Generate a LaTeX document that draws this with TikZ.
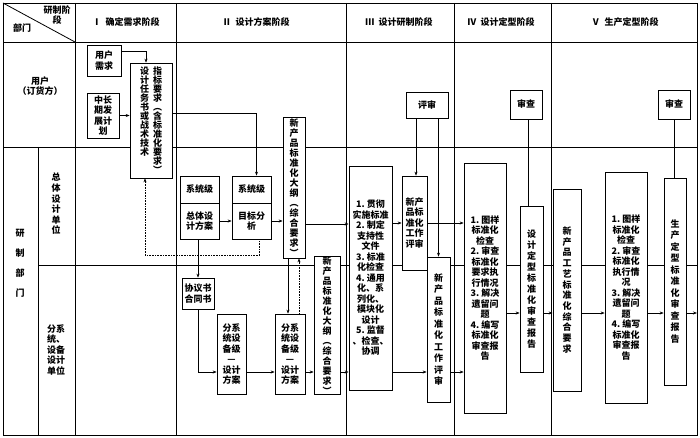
\documentclass[tikz,border=0pt]{standalone}
\usepackage{fontspec}
\newfontfamily\cjk{Noto Sans CJK SC}
\usetikzlibrary{arrows.meta}

% vertical column of characters, one per line
\ExplSyntaxOn
\NewDocumentCommand \shu { O{11pt} m }
  {
    \vtop
      {
        \baselineskip = #1 \lineskiplimit = -\maxdimen
        \tl_map_inline:nn {#2} { \hbox_to_wd:nn {1em} { \hss ##1 \hss } }
      }
  }
\ExplSyntaxOff

\begin{document}
\begin{tikzpicture}[x=1pt,y=-1pt,
    every node/.style={font=\cjk\bfseries\fontsize{9}{10.5}\selectfont,align=center},
    box/.style={draw,fill=white,line width=0.7pt,inner sep=0pt},
    wh/.style 2 args={minimum width=#1pt,minimum height=#2pt},
    arr/.style={line width=0.6pt,-{Stealth[length=4pt,width=3pt]}},
    fb/.style={arr,densely dotted},
    ln/.style={line width=0.6pt},
    rule/.style={line width=0.8pt}]
\useasboundingbox (0,0) rectangle (700,438);
% table
\draw[rule] (3,3) rectangle (697,435);
\draw[rule] (3,42) -- (697,42) (3,147) -- (697,147) (38,265) -- (697,265);
\draw[rule] (3,3) -- (75,42);
\foreach \x in {75,176,346,454,551}
  \draw[rule] (\x,3) -- (\x,435);
\draw[rule] (38,147) -- (38,435);
% heads
\node (hjd) at (57,15) {研制阶\\段};
\node (hbm) at (22,28) {部门};
\node (p1) at (126,22) {Ⅰ\ \ 确定需求阶段};
\node (p2) at (256,22) {Ⅱ\ \ 设计方案阶段};
\node (p3) at (399,22) {Ⅲ\ \ 设计研制阶段};
\node (p4) at (501,22) {Ⅳ\ \ 设计定型阶段};
\node (p5) at (625,22) {Ⅴ\ \ 生产定型阶段};
\node (yh) at (40,86) {用户\\（订货方）};
\node (ztdw) at (56,204) {\shu[10.6pt]{总体设计单位}};
\node (yzbm) at (20,263) {\shu[20pt]{研制部门}};
\node (fxdw) at (56,350) {分系\\统、\\设备\\设计\\单位};
% I
\node[box,wh={34}{31}] (yhxq) at (104,60.5) {用户\\需求};
\node[box,wh={32}{45}] (zcq) at (103,115.5) {中长\\期发\\展计\\划};
\node[box,wh={42}{115}] (rws) at (151,120.5)
  {\shu[9pt]{设计任务书或战术技术}\hspace{4pt}\shu[9pt]{指标要求︵含标准化要求︶}};
% II
\node[box,wh={39}{27}] (xj1) at (199.5,189.5) {系统级};
\node[box,wh={39}{36}] (ztfa) at (199.5,221) {总体设\\计方案};
\node[box,wh={39}{27}] (xj2) at (251.5,189.5) {系统级};
\node[box,wh={39}{36}] (mbfx) at (251.5,221) {目标分\\析};
\node[box,wh={22}{141}] (dg1) at (294,187.5) {\shu[10pt]{新产品标准化大纲︵综合要求︶}};
\node[box,wh={32}{31}] (xys) at (198,293.5) {协议书\\合同书};
\node[box,wh={29}{80}] (fx1) at (231.5,354) {分系\\统设\\备级\\—\\设计\\方案};
\node[box,wh={30}{80}] (fx2) at (290,354) {分系\\统设\\备级\\—\\设计\\方案};
\node[box,wh={26}{135}] (dg2) at (327,325.5) {\shu[10pt]{新产品标准化大纲︵综合要求︶}};
% III
\node[box,wh={42}{26}] (ps1) at (427,105) {评审};
\node[box,wh={43}{224}] (gc) at (370.5,278)
  {1.\ 贯彻\\实施标准\\2.\ 制定\\支持性\\文件\\3.\ 标准\\化检查\\4.\ 通用\\化、系\\列化、\\模块化\\设计\\5.\ 监督\\、检查、\\协调};
\node[box,wh={25}{94}] (ps2) at (414.5,223) {新产\\品标\\准化\\工作\\评审};
\node[box,wh={23}{145}] (ps3) at (438.5,329.5) {\shu[11.5pt]{新产品标准化工作评审}};
% IV
\node[box,wh={32}{29}] (sc1) at (526,104.5) {审查};
\node[box,wh={42}{250}] (tu1) at (485,288)
  {1.\ 图样\\标准化\\检查\\2.\ 审查\\标准化\\要求执\\行情况\\3.\ 解决\\遗留问\\题\\4.\ 编写\\标准化\\审查报\\告};
\node[box,wh={23}{166}] (sdbg) at (531.5,289) {\shu[11pt]{设计定型标准化审查报告}};
% V
\node[box,wh={32}{29}] (sc2) at (674,104.5) {审查};
\node[box,wh={28}{202}] (gy) at (567,290) {\shu[10.7pt]{新产品工艺标准化综合要求}};
\node[box,wh={42}{231}] (tu2) at (626,287.5)
  {1.\ 图样\\标准化\\检查\\2.\ 审查\\标准化\\执行情\\况\\3.\ 解决\\遗留问\\题\\4.\ 编写\\标准化\\审查报\\告};
\node[box,wh={22}{207}] (scbg) at (675,281.5) {\shu[11.5pt]{生产定型标准化审查报告}};
\coordinate (rowA) at (0,224);
\coordinate (rowB) at (0,372);
\coordinate (rowC) at (0,313);
\coordinate (out) at (697,313);
% links
\draw[arr] ([yshift=9]yhxq.east) -| ([xshift=-5]rws.north);
\draw[arr] (zcq.east) -- (zcq.east -| rws.west);
\draw[arr] ([yshift=7]rws.east) -| ([xshift=5]xj2.north);
\draw[arr] (ztfa.east) -- (mbfx.west);
\draw[arr] (mbfx.east) -- (mbfx.east -| dg1.west);
\draw[fb] ([xshift=8]mbfx.south) -- ++(0,16) -| ([xshift=-6]rws.south);
\draw[arr] (dg1.east |- rowA) -- (gc.west |- rowA);
\draw[arr] (xys.north |- ztfa.south) -- (xys.north);
\draw[arr] (xys.south) |- (fx1.west |- rowB);
\draw[arr] (fx1.east |- rowB) -- (fx2.west |- rowB);
\draw[arr] (fx2.east |- rowB) -- (dg2.west |- rowB);
\draw[arr] ([xshift=-6]dg1.south) -- ([xshift=-6]dg1.south |- fx2.north);
\draw[fb] ([xshift=5]dg1.south |- fx2.north) -- ([xshift=5]dg1.south);
\draw[arr] (dg2.east |- rowB) -- (gc.west |- rowB);
\draw[arr] ([xshift=-11]ps1.south) -- ([xshift=-11]ps1.south |- ps2.north);
\draw[arr] (ps3.north |- ps1.south) -- (ps3.north);
\draw[arr] (gc.east |- ps2.west) -- (ps2.west);
\draw[arr] (ps2.east) -- (ps2.east -| tu1.west);
\draw[arr] (gc.east |- rowB) -- (ps3.west |- rowB);
\draw[arr] (ps3.east |- rowB) -- (tu1.west |- rowB);
\draw[ln] ([xshift=2]sc1.south) -- ([xshift=2]sc1.south |- sdbg.north);
\draw[arr] (tu1.east |- rowC) -- (sdbg.west |- rowC);
\draw[arr] (sdbg.east |- rowC) -- (gy.west |- rowC);
\draw[arr] (gy.east |- rowC) -- (tu2.west |- rowC);
\draw[arr] (tu2.east |- rowC) -- (scbg.west |- rowC);
\draw[arr] (scbg.east |- rowC) -- (out);
\draw[ln] (sc2.south) -- (sc2.south |- scbg.north);
\end{tikzpicture}
\end{document}
